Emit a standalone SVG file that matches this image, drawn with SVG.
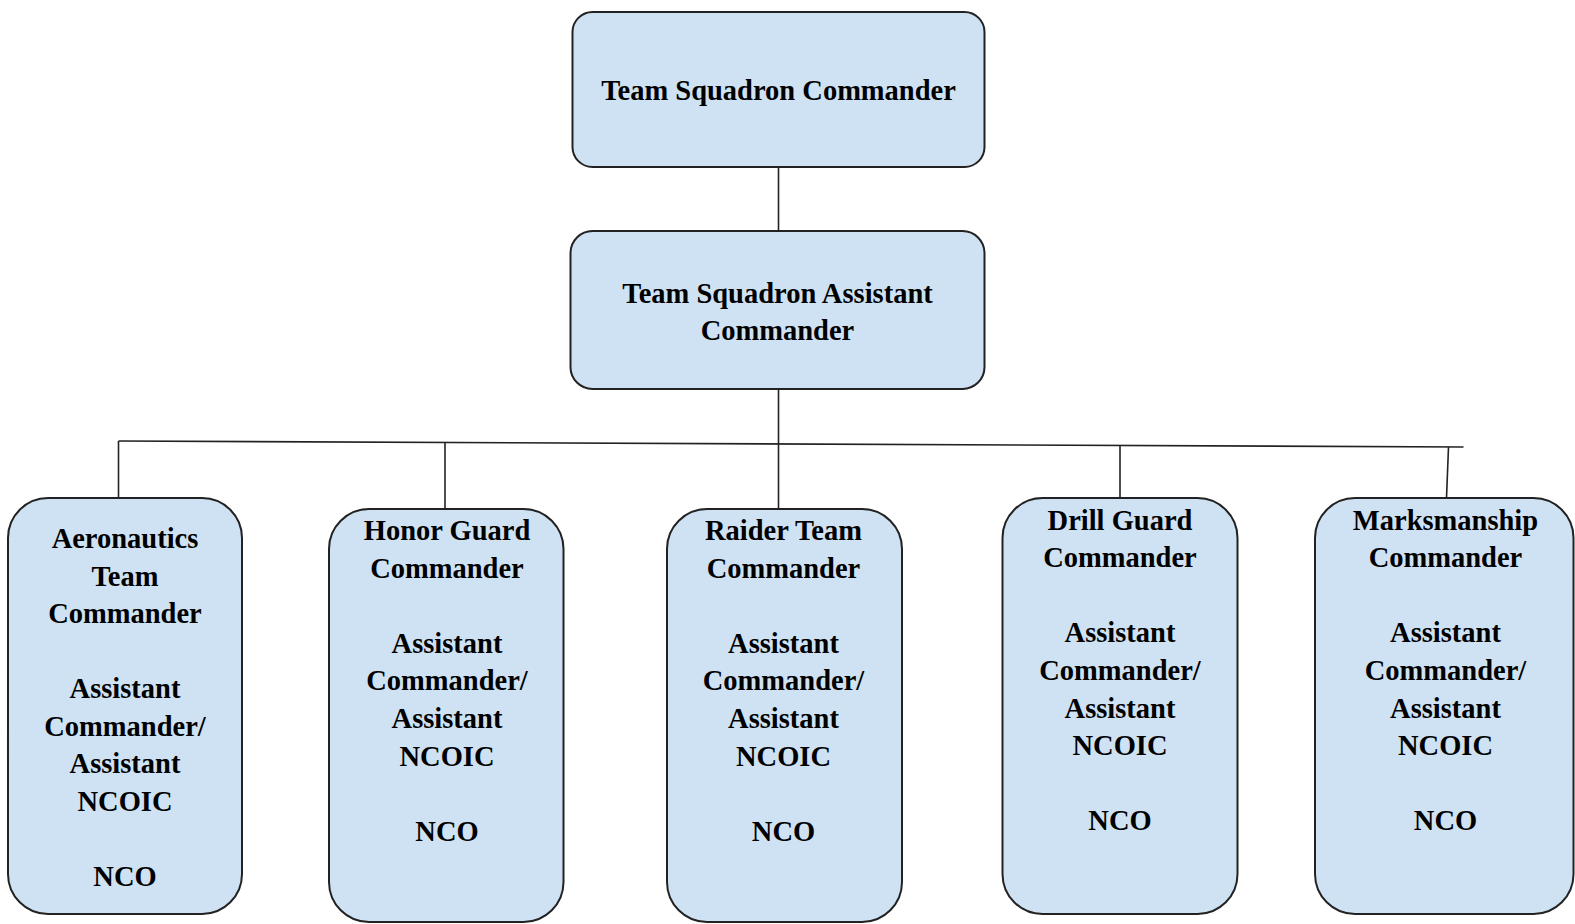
<svg xmlns="http://www.w3.org/2000/svg" width="1575" height="924" viewBox="0 0 1575 924">
  <style>
    .box { fill: #cfe2f3; stroke: #222; stroke-width: 2; }
    .lbl { font-family: "Liberation Serif", "Times New Roman", serif; font-weight: bold; font-size: 28.5px; fill: #000; text-anchor: middle; }
    .conn { stroke: #222; stroke-width: 1.6; fill: none; }
  </style>
  <rect width="1575" height="924" fill="#ffffff"/>

  <g id="connectors">
    <line class="conn" x1="778.5" y1="167" x2="778.5" y2="231"/>
    <line class="conn" x1="778.5" y1="389" x2="778.5" y2="509"/>
    <line class="conn" x1="118.5" y1="441" x2="1463.5" y2="447"/>
    <line class="conn" x1="118.5" y1="441" x2="118.5" y2="498"/>
    <line class="conn" x1="445" y1="442.5" x2="445" y2="509"/>
    <line class="conn" x1="1120" y1="445.5" x2="1120" y2="498"/>
    <line class="conn" x1="1448.5" y1="447" x2="1446.5" y2="498"/>
  </g>

  <g id="team-squadron-commander">
    <rect class="box" x="572.5" y="12" width="412" height="155" rx="20"/>
    <text class="lbl" x="778.5" y="100">Team Squadron Commander</text>
  </g>

  <g id="team-squadron-assistant-commander">
    <rect class="box" x="570.5" y="231" width="414" height="158" rx="22"/>
    <text class="lbl" x="777.5" y="303">Team Squadron Assistant</text>
    <text class="lbl" x="777.5" y="340">Commander</text>
  </g>

  <g id="aeronautics-team">
    <rect class="box" x="8" y="498" width="234" height="416" rx="40"/>
    <text class="lbl" x="125" y="548">Aeronautics</text>
    <text class="lbl" x="125" y="585.5">Team</text>
    <text class="lbl" x="125" y="623">Commander</text>
    <text class="lbl" x="125" y="698">Assistant</text>
    <text class="lbl" x="125" y="735.5">Commander/</text>
    <text class="lbl" x="125" y="773">Assistant</text>
    <text class="lbl" x="125" y="810.5">NCOIC</text>
    <text class="lbl" x="125" y="885.5">NCO</text>
  </g>

  <g id="honor-guard">
    <rect class="box" x="329" y="509" width="234.5" height="413" rx="40"/>
    <text class="lbl" x="447" y="540">Honor Guard</text>
    <text class="lbl" x="447" y="577.6">Commander</text>
    <text class="lbl" x="447" y="652.8">Assistant</text>
    <text class="lbl" x="447" y="690.4">Commander/</text>
    <text class="lbl" x="447" y="728">Assistant</text>
    <text class="lbl" x="447" y="765.6">NCOIC</text>
    <text class="lbl" x="447" y="840.8">NCO</text>
  </g>

  <g id="raider-team">
    <rect class="box" x="667" y="509" width="235" height="413" rx="40"/>
    <text class="lbl" x="783.5" y="540">Raider Team</text>
    <text class="lbl" x="783.5" y="577.6">Commander</text>
    <text class="lbl" x="783.5" y="652.8">Assistant</text>
    <text class="lbl" x="783.5" y="690.4">Commander/</text>
    <text class="lbl" x="783.5" y="728">Assistant</text>
    <text class="lbl" x="783.5" y="765.6">NCOIC</text>
    <text class="lbl" x="783.5" y="840.8">NCO</text>
  </g>

  <g id="drill-guard">
    <rect class="box" x="1002.5" y="498" width="235" height="416" rx="40"/>
    <text class="lbl" x="1120" y="529.5">Drill Guard</text>
    <text class="lbl" x="1120" y="567.1">Commander</text>
    <text class="lbl" x="1120" y="642.3">Assistant</text>
    <text class="lbl" x="1120" y="679.9">Commander/</text>
    <text class="lbl" x="1120" y="717.5">Assistant</text>
    <text class="lbl" x="1120" y="755.1">NCOIC</text>
    <text class="lbl" x="1120" y="830.3">NCO</text>
  </g>

  <g id="marksmanship">
    <rect class="box" x="1315" y="498" width="258.5" height="416" rx="40"/>
    <text class="lbl" x="1445.5" y="529.5">Marksmanship</text>
    <text class="lbl" x="1445.5" y="567.1">Commander</text>
    <text class="lbl" x="1445.5" y="642.3">Assistant</text>
    <text class="lbl" x="1445.5" y="679.9">Commander/</text>
    <text class="lbl" x="1445.5" y="717.5">Assistant</text>
    <text class="lbl" x="1445.5" y="755.1">NCOIC</text>
    <text class="lbl" x="1445.5" y="830.3">NCO</text>
  </g>
</svg>
